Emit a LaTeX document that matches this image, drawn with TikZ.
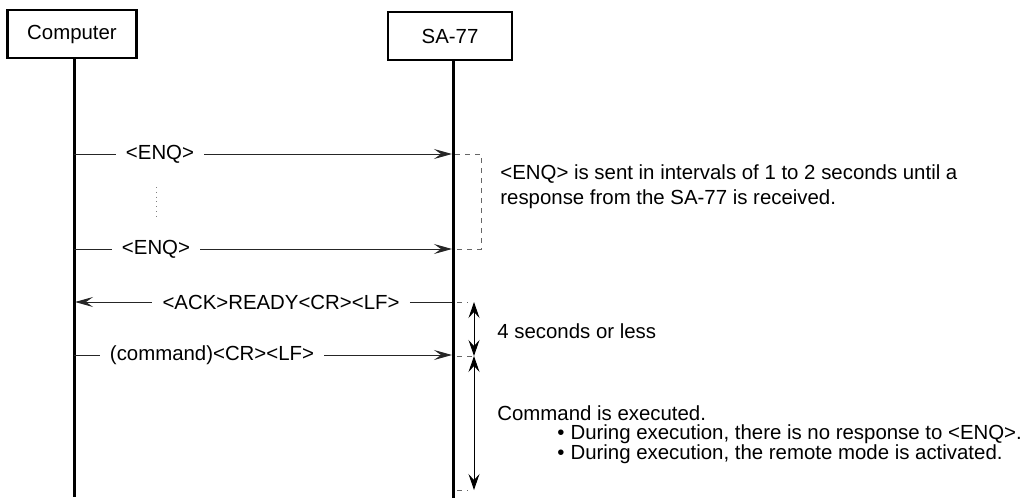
\documentclass[tikz,border=0pt]{standalone}
\usepackage{fontspec}
\setmainfont{Liberation Sans}
\usetikzlibrary{arrows.meta}

\tikzset{
  actor/.style={draw, line width=1.1pt, inner sep=0pt, minimum height=24pt},
  lifeline/.style={line width=1.5pt},
  msg/.style={line width=0.5pt, black!85},
  msglabel/.style={inner xsep=5pt, inner ysep=1pt},
  tip/.style={-{Stealth[length=9pt, width=5pt, inset=3.5pt]}},
  backtip/.style={{Stealth[length=9pt, width=5pt, inset=3.5pt]}-},
  span/.style={line width=0.5pt, {Stealth[length=8pt, width=5.5pt, inset=3pt]}-{Stealth[length=8pt, width=5.5pt, inset=3pt]}},
  guide/.style={line width=0.4pt, black!60, dash pattern=on 2.5pt off 2.5pt},
  note/.style={anchor=west, align=left, inner sep=0pt},
}

\begin{document}
\begin{tikzpicture}[x=0.5pt, y=-0.5pt, font=\fontsize{10.2}{12.5}\selectfont]
    \useasboundingbox (0,0) rectangle (1022,498);

    % actors
    \node[actor, minimum width=64.5pt] (comp) at (72,34) {Computer};
    \node[actor, minimum width=62pt] (sa) at (450,36) {SA-77};

    \coordinate (cend) at (74,497);
    \coordinate (send) at (453,498);
    \draw[lifeline] (cend |- comp.south) -- (cend);
    \draw[lifeline] (send |- sa.south) -- (send);

    % points on the lifelines
    \coordinate (c1) at (74,154);
    \coordinate (s1) at (452,154);
    \coordinate (c2) at (74,249);
    \coordinate (s2) at (452,249);
    \coordinate (c3) at (75,302);
    \coordinate (s3) at (452,302);
    \coordinate (c4) at (74,355);
    \coordinate (s4) at (452,355);

    % messages
    \node[msglabel] (enq1) at (160,154) {<ENQ>};
    \node[msglabel] (enq2) at (156,249) {<ENQ>};
    \node[msglabel] (ack) at (281,302) {<ACK>READY<CR><LF>};
    \node[msglabel] (cmd) at (212,355) {(command)<CR><LF>};

    \draw[msg] (c1) -- (enq1);
    \draw[msg, tip] (enq1) -- (s1);
    \draw[msg] (c2) -- (enq2);
    \draw[msg, tip] (enq2) -- (s2);
    \draw[msg, backtip] (c3) -- (ack);
    \draw[msg] (ack) -- (s3);
    \draw[msg] (c4) -- (cmd);
    \draw[msg, tip] (cmd) -- (s4);

    % repeated ENQ
    \draw[line width=0.4pt, black!50, dotted] (156,187) -- (156,217);
    \draw[guide] (455,154) -- (481,154) -- (481,249) -- (455,249);

    % timing
    \coordinate (t1) at (474,302);
    \coordinate (t2) at (474,356);
    \coordinate (t3) at (474,490);
    \draw[guide] (457,302) -- (468,302);
    \draw[guide] (457,356) -- (472,356);
    \draw[guide] (457,490) -- (468,490);
    \draw[span] (t1) -- (t2);
    \draw[span] (t2) -- (t3);

    % notes
    \node[note] (enqnote) at (500,187) {<ENQ> is sent in intervals of 1 to 2 seconds until a\\response from the SA-77 is received.};
    \node[note] (timenote) at (497,331) {4 seconds or less};
    \node[note] (execnote) at (497,413) {Command is executed.};
    \node[note] (bullet1) at (557,434) {\textbullet\hspace{3pt}During execution, there is no response to <ENQ>.};
    \node[note] (bullet2) at (557,454) {\textbullet\hspace{3pt}During execution, the remote mode is activated.};
\end{tikzpicture}
\end{document}
